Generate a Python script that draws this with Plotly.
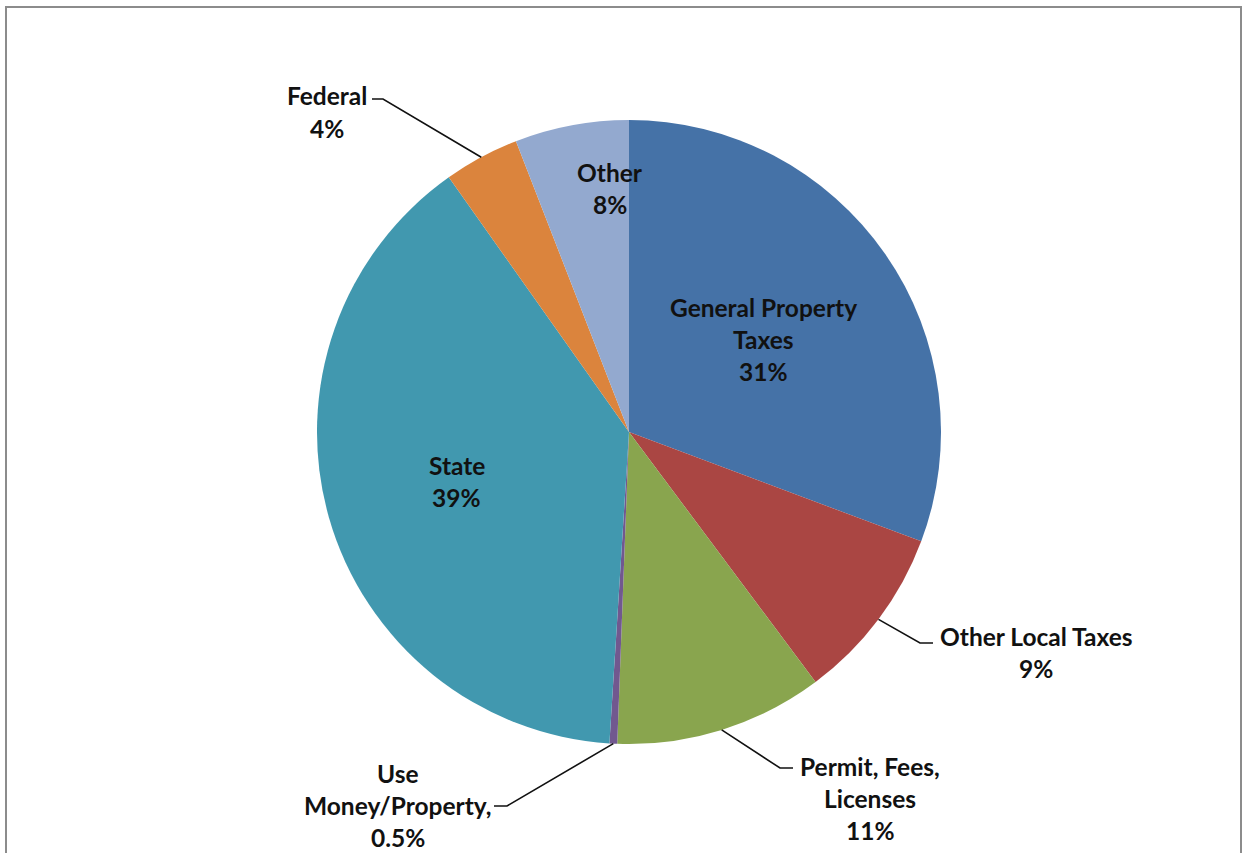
import math
import plotly.graph_objects as go

# ---------------- data ----------------
categories = ["General Property Taxes", "Other Local Taxes", "Permit, Fees, Licenses",
              "Use Money/Property", "State", "Federal", "Other"]
values = [30.7, 9.1, 10.8, 0.4, 39.2, 3.9, 5.9]
pct_labels = ["31%", "9%", "11%", "0.5%", "39%", "4%", "8%"]
label_lines = [["General Property", "Taxes"], ["Other Local Taxes"], ["Permit, Fees,", "Licenses"],
               ["Use", "Money/Property,"], ["State"], ["Federal"], ["Other"]]
colors = ["#4572A7", "#AA4643", "#89A54E", "#71588F", "#4198AF", "#DB843D", "#93A9CF"]

# ---------------- layout constants (pixels) ----------------
W, H = 1248, 853
CX, CY, R = 629, 432, 312
FONT = "Lato"
FS = 24.5
LINE_H = 32
# label first-line centre (px) per slice
label_pos = [(763, 307), (1036, 636), (870, 766), (398, 773), (457, 465), (327, 96), (610, 172)]
# leader line: elbow and end (px) for outside labels; None for inside labels
leaders = [None, ((920, 643), (933, 643)), ((780, 768), (793, 768)),
           ((507, 806), (494, 806)), None, ((383, 99), (372, 99)), None]


def px(x):
    return x / W


def py(y):
    return 1 - y / H


fig = go.Figure(go.Pie(
    labels=categories, values=values, sort=False, direction="clockwise", rotation=0,
    marker=dict(colors=colors, line=dict(width=0)),
    textinfo="none", hoverinfo="label+percent", showlegend=False,
    domain=dict(x=[px(CX - R), px(CX + R)], y=[py(CY + R), py(CY - R)]),
))

annotations = []
shapes = []
total = sum(values)
cum = 0.0
for i, v in enumerate(values):
    mid = (cum + v / 2) / total * 2 * math.pi
    cum += v
    lines = label_lines[i] + [pct_labels[i]]
    lx, ly = label_pos[i]
    for k, t in enumerate(lines):
        annotations.append(dict(
            x=px(lx), y=py(ly + k * LINE_H), xref="paper", yref="paper",
            text=t, showarrow=False, xanchor="center", yanchor="middle",
            font=dict(family=FONT, size=FS, color="#111111", weight="bold"),
        ))
    if leaders[i] is not None:
        ex = CX + R * math.sin(mid)
        ey = CY - R * math.cos(mid)
        (bx, by), (tx, ty) = leaders[i]
        path = f"M {px(ex)} {py(ey)} L {px(bx)} {py(by)} L {px(tx)} {py(ty)}"
        shapes.append(dict(type="path", path=path, xref="paper", yref="paper",
                           line=dict(color="#111111", width=1.6)))

# chart frame (top, left, right edges; bottom is cut off in the reference)
frame = f"M {px(6)} {py(853)} L {px(6)} {py(7)} L {px(1241)} {py(7)} L {px(1241)} {py(853)}"
shapes.append(dict(type="path", path=frame, xref="paper", yref="paper",
                   line=dict(color="#8c8c8c", width=2)))

fig.update_layout(
    width=W, height=H, margin=dict(l=0, r=0, t=0, b=0),
    paper_bgcolor="white", plot_bgcolor="white",
    annotations=annotations, shapes=shapes,
)

fig.write_html("out.html", config={"displayModeBar": False},
               post_script="document.body.style.margin='0px';document.body.style.overflow='hidden';")
